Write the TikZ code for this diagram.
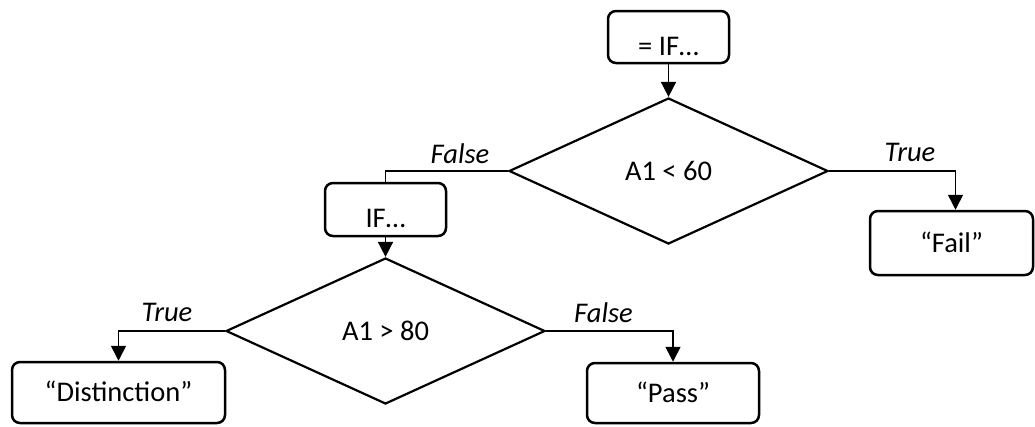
\documentclass[tikz,border=0pt]{standalone}
\usepackage{fontspec}
\setmainfont{Carlito}
\usetikzlibrary{shapes.geometric,arrows.meta}
\begin{document}
\begin{tikzpicture}[x=1pt,y=-1pt,
  every node/.style={font=\fontsize{28.5}{32}\selectfont, text height=18pt, text depth=0pt, inner sep=0pt},
  box/.style={draw, line width=2.5pt, rounded corners=8pt},
  lowbox/.style={box, text height=36pt},
  dec/.style={draw, shape=diamond, line width=2.2pt, minimum width=319pt, minimum height=146pt},
  conn/.style={line width=1.6pt},
  arr/.style={conn, -{Triangle[length=15pt,width=15pt]}},
  lab/.style={font=\fontsize{28.5}{32}\selectfont\itshape}]
\useasboundingbox (0,0) rectangle (1035,426);
% nodes
\node[lowbox, minimum width=121pt, minimum height=52pt] (start) at (668.5,37) {= IF…};
\node[dec] (d1) at (668.5,171) {A1 < 60};
\node[lowbox, minimum width=121pt, minimum height=53pt] (if2) at (385.5,209.5) {IF…};
\node[box, minimum width=163pt, minimum height=64pt] (fail) at (951.5,243) {“Fail”};
\node[dec] (d2) at (385.5,331) {A1 > 80};
\node[box, minimum width=213pt, minimum height=61pt] (dist) at (118.5,392.5) {“Distinction”};
\node[box, minimum width=172pt, minimum height=60pt] (pass) at (673,393) {“Pass”};
% labels
\node[lab] (lf1) at (460,154) {False};
\node[lab] (lt1) at (910,152.5) {True};
\node[lab] (lt2) at (167,312.5) {True};
\node[lab] (lf2) at (603.5,313.5) {False};
% connectors
\draw[arr] (start.south) -- (d1.north);
\draw[conn] (d1.west) -| (if2.north);
\draw[arr] (d1.east) -| ([xshift=4pt]fail.north);
\draw[arr] (if2.south) -- (d2.north);
\draw[arr] (d2.west) -| (dist.north);
\draw[arr] (d2.east) -| (pass.north);
\end{tikzpicture}
\end{document}
